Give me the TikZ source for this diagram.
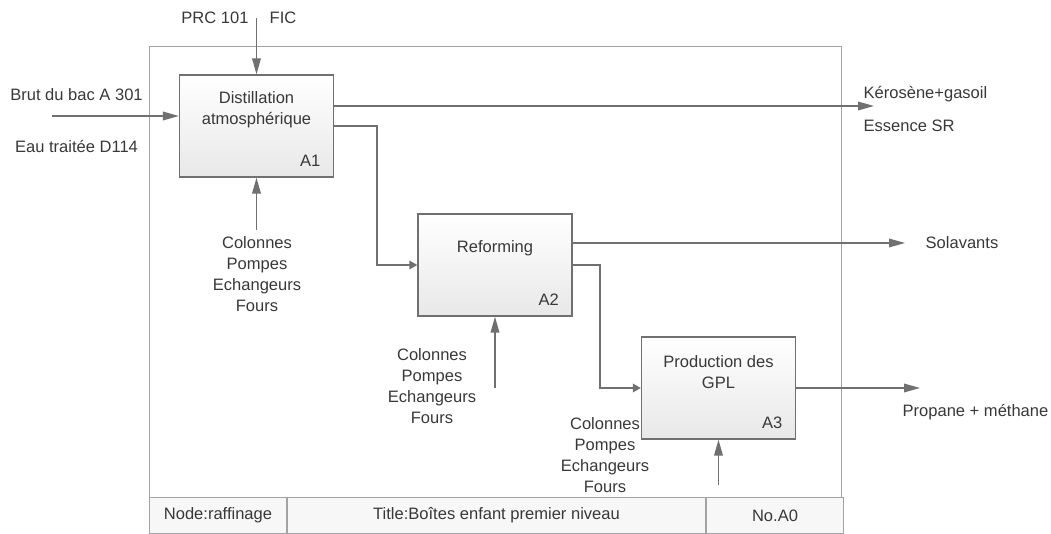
\documentclass[tikz,border=0pt]{standalone}
\usepackage{fontspec}
\setmainfont{Liberation Sans}
\usetikzlibrary{arrows.meta,calc,positioning}
\definecolor{linegray}{HTML}{707070}
\definecolor{framegray}{HTML}{A3A3A3}
\definecolor{textgray}{HTML}{383838}

\begin{document}
\begin{tikzpicture}[x=0.75pt, y=-0.75pt, line width=1pt,
  font=\fontsize{12.4}{15.75}\selectfont, text=textgray,
  box/.style={draw=linegray, top color=white, bottom color=black!9,
    minimum width=115.5pt, minimum height=76.5pt, inner sep=0pt},
  flow/.style={draw=linegray, -{Triangle[length=12pt,width=6.5pt]}},
  flowshort/.style={draw=linegray, -{Triangle[length=6pt,width=6.5pt]}},
  lbl/.style={inner sep=0pt, align=center},
  cell/.style={draw=framegray, line width=0.75pt, fill=black!3,
    minimum height=27pt, inner sep=0pt, anchor=north west}]
  \useasboundingbox (0,0) rectangle (1051,534);
  % outer frame and footer
  \draw[framegray, line width=0.75pt] (149,47) rectangle (841,533);
  \node[cell, minimum width=102.75pt] (nd) at (149,497) {Node:raffinage};
  \node[cell, minimum width=313.5pt] (ti) at (nd.north east) {Title:Boîtes enfant premier niveau};
  \node[cell, minimum width=102.75pt] (no) at (ti.north east) {No.A0};
  % activity boxes
  \node[box] (a1) at (256.5,126) {};
  \node[box] (a2) at (495,265) {};
  \node[box] (a3) at (718.5,388) {};
  \node[lbl] (a1t) at ($(a1.north)+(0,35.5)$) {Distillation\\atmosphérique};
  \node[lbl] (a2t) at ($(a2.north)+(0,35)$) {Reforming};
  \node[lbl] (a3t) at ($(a3.north)+(0,35.5)$) {Production des\\GPL};
  \node[lbl] (a1n) at ($(a1.south east)+(-24,-17)$) {A1};
  \node[lbl] (a2n) at ($(a2.south east)+(-24,-17)$) {A2};
  \node[lbl] (a3n) at ($(a3.south east)+(-24,-17)$) {A3};
  % A1: control, input, outputs, mechanism
  \coordinate (c1) at (257,18);
  \draw[flow] (a1.north |- c1) -- (a1.north);
  \node[lbl] (prc) at (215,18) {PRC 101};
  \node[lbl] (fic) at (283,18) {FIC};
  \coordinate (in1) at (52,116);
  \draw[flow] (in1) -- (in1 -| a1.west);
  \node[lbl] (brut) at (76.5,95) {Brut du bac A 301};
  \node[lbl] (eau) at (76.5,146) {Eau traitée D114};
  \coordinate (o1) at (874,106);
  \draw[flow] (o1 -| a1.east) -- (o1);
  \node[lbl, anchor=west] (kero) at (863,94) {Kérosène+gasoil};
  \node[lbl, anchor=west] (ess) at (863,126) {Essence SR};
  \coordinate (m1) at (257,230);
  \draw[flow] (a1.south |- m1) -- (a1.south);
  \node[lbl] (m1t) at (257,274.5) {Colonnes\\Pompes\\Echangeurs\\Fours};
  % A1 -> A2
  \coordinate (j12) at (377,200);
  \draw[flowshort] (a1.east) -| (j12) |- (a2.west);
  % A2: output, mechanism
  \coordinate (o2) at (905,243);
  \draw[flow] (o2 -| a2.east) -- (o2);
  \node[lbl, anchor=west] (sol) at (925,243) {Solavants};
  \coordinate (m2) at (495,388);
  \draw[flow] (a2.south |- m2) -- (a2.south);
  \node[lbl] (m2t) at (432,386.5) {Colonnes\\Pompes\\Echangeurs\\Fours};
  % A2 -> A3
  \coordinate (j23) at (600,330);
  \draw[flowshort] (a2.east) -| (j23) |- (a3.west);
  % A3: output, mechanism
  \coordinate (o3) at (920,388);
  \draw[flow] (a3.east) -- (o3);
  \node[lbl] (prop) at (975.5,412) {Propane + méthane};
  \coordinate (m3) at (718,485);
  \draw[flow] (a3.south |- m3) -- (a3.south);
  \node[lbl] (m3t) at (605,455) {Colonnes\\Pompes\\Echangeurs\\Fours};
\end{tikzpicture}
\end{document}
